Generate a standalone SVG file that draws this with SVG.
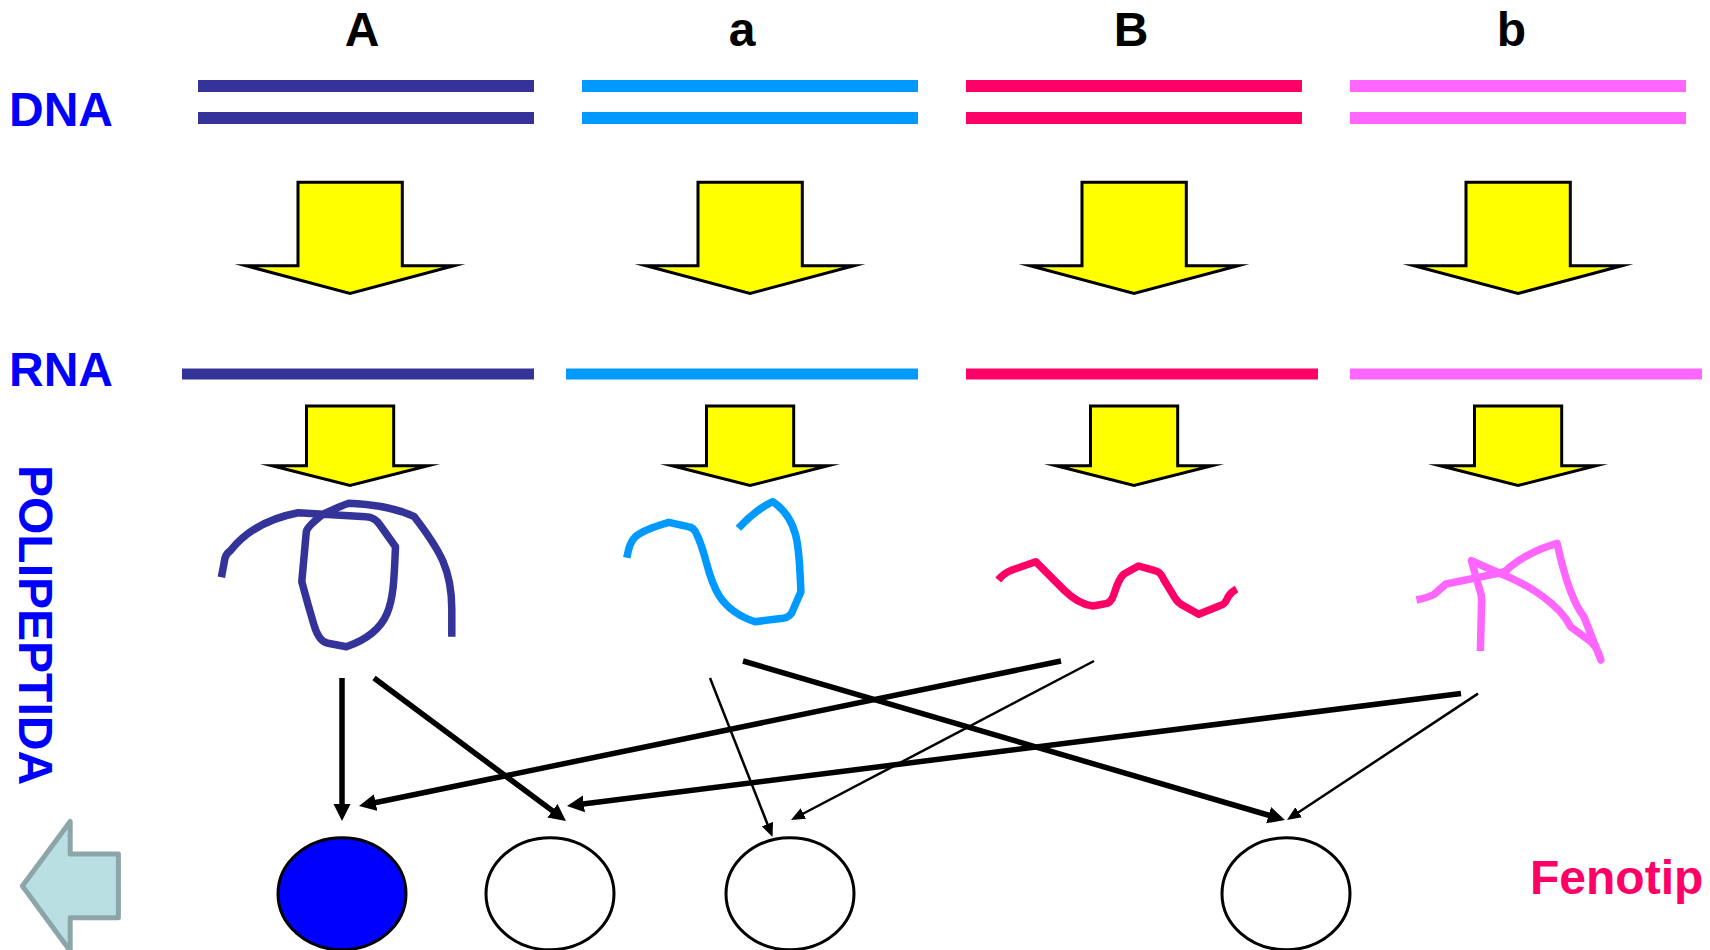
<svg xmlns="http://www.w3.org/2000/svg" width="1710" height="950" viewBox="0 0 1710 950">
<style>
text{font-family:"Liberation Sans",Arial,sans-serif;font-weight:bold;font-size:48px}
.hd{fill:#000;text-anchor:middle}
.lb{fill:#0000FF}
.navy{fill:#333399}.sky{fill:#0099FF}.red{fill:#FF0066}.vio{fill:#FF66FF}
.yl{fill:#FFFF00;stroke:#000;stroke-width:3;stroke-miterlimit:14;stroke-linejoin:miter}
.pp{fill:none;stroke-width:7.500;stroke-linejoin:round}
.cell{fill:#fff;stroke:#000;stroke-width:3}
.thick{stroke:#000;stroke-width:5.500;fill:none;marker-end:url(#hb)}
.thin{stroke:#000;stroke-width:2.500;fill:none;marker-end:url(#hs)}
</style>
<defs>
<marker id="hb" markerUnits="userSpaceOnUse" markerWidth="20" markerHeight="20" refX="1" refY="9" orient="auto"><path d="M0,0.5L17,9L0,17.500Z" fill="#000"/></marker>
<marker id="hs" markerUnits="userSpaceOnUse" markerWidth="16" markerHeight="14" refX="1" refY="7" orient="auto"><path d="M0,1L14,7L0,13Z" fill="#000"/></marker>
<polygon id="big" class="yl" points="298,182.200 402.300,182.200 402.300,265.700 454,265.700 350,293.500 246,265.700 298,265.700"/>
<polygon id="small" class="yl" points="306.500,406 393.700,406 393.700,465.700 428,465.700 350,485.500 272,465.700 306.500,465.700"/>
</defs>
<g id="labels">
<text class="hd" x="362" y="46">A</text>
<text class="hd" x="742" y="46">a</text>
<text class="hd" x="1131" y="46">B</text>
<text class="hd" x="1511.500" y="46">b</text>
<text class="lb" x="9" y="126">DNA</text>
<text class="lb" x="9" y="386">RNA</text>
<text class="lb" transform="translate(19,465) rotate(90)">POLIPEPTIDA</text>
<text x="1530" y="894" fill="#FF0066">Fenotip</text>
</g>
<g id="dna">
<rect class="navy" x="198" y="80" width="336" height="12"/><rect class="navy" x="198" y="112" width="336" height="12"/>
<rect class="sky" x="582" y="80" width="336" height="12"/><rect class="sky" x="582" y="112" width="336" height="12"/>
<rect class="red" x="966" y="80" width="336" height="12"/><rect class="red" x="966" y="112" width="336" height="12"/>
<rect class="vio" x="1350" y="80" width="336" height="12"/><rect class="vio" x="1350" y="112" width="336" height="12"/>
</g>
<g id="rna">
<rect class="navy" x="182" y="368.500" width="352" height="11"/>
<rect class="sky" x="566" y="368.500" width="352" height="11"/>
<rect class="red" x="966" y="368.500" width="352" height="11"/>
<rect class="vio" x="1350" y="368.500" width="352" height="11"/>
</g>
<g id="transcription-arrows">
<use href="#big"/><use href="#big" x="400"/><use href="#big" x="784"/><use href="#big" x="1168"/>
</g>
<g id="translation-arrows">
<use href="#small"/><use href="#small" x="400"/><use href="#small" x="784"/><use href="#small" x="1168"/>
</g>
<g id="polypeptides">
<path class="pp" stroke="#333399" d="M221.400,577.300L225,558Q226.500,553 230.400,550.700Q254,521 298.200,512.700L366,516.700Q375,517 380,525L395.500,546.700C393,600 395,630 346.400,646.700L328,643.300Q319,642 314,625C308,605 304,590 301.800,581.700L306.300,531.700Q307,527 321.900,515Q335,508 348.700,503.300Q390,505 414.300,516.700C440,550 452,570 451.800,610L451.800,636.700"/>
<path class="pp" stroke="#0099FF" d="M626.800,557.700C631,538 632,533 668.800,522.300L688,526.700Q694,527 697,535C712,565 705,605 754.900,621.700L783,618.300Q791,617 793,610L800.900,591.700C799,550 800,520 772.800,501.700Q755,510 738.400,528.300"/>
<path class="pp" stroke="#FF0066" d="M998.200,580Q1004,573 1012,570L1035.700,561.700L1064,590Q1078,604 1092.900,606L1104,604Q1111,604 1114,594Q1119,578 1124,574L1138.400,566L1155,570.700Q1160,571 1164,580L1175,598Q1178,603 1184,606L1198.700,614.300L1219,606Q1225,605 1228,597Q1231,592 1236.600,589"/>
<path class="pp" stroke="#FF66FF" d="M1416.500,600Q1428,597.500 1434,594.500Q1440,589 1446,584L1498,573.300Q1505,573 1510,567Q1530,551 1557.100,543.300C1565,580 1573,603 1583.900,616.700L1600.900,660Q1596,643 1586.200,638.300L1570.500,626.700C1560,605 1530,585 1499,573L1471.400,560.700L1480.300,591.700Q1482,596 1481.500,605L1480.400,651"/>
</g>
<g id="connectors">
<line class="thick" x1="342" y1="678" x2="342" y2="805"/>
<line class="thick" x1="374" y1="678" x2="553.200" y2="811.400"/>
<line class="thick" x1="1061" y1="661" x2="374.700" y2="802.800"/>
<line class="thick" x1="743" y1="661" x2="1269.600" y2="815.500"/>
<line class="thick" x1="1461" y1="693.600" x2="582.900" y2="804"/>
<line class="thin" x1="1094" y1="661" x2="802.500" y2="814"/>
<line class="thin" x1="710" y1="678" x2="767.800" y2="825"/>
<line class="thin" x1="1478" y1="693.600" x2="1297.800" y2="812.800"/>
</g>
<g id="cell-1"><ellipse cx="342" cy="893.800" rx="64" ry="56" fill="#0000FF" stroke="#000" stroke-width="3"/></g>
<g id="cell-2"><ellipse class="cell" cx="550" cy="893.800" rx="64" ry="56"/></g>
<g id="cell-3"><ellipse class="cell" cx="790" cy="893.800" rx="64" ry="56"/></g>
<g id="cell-4"><ellipse class="cell" cx="1286" cy="893.800" rx="64" ry="56"/></g>
<g id="back-arrow"><polygon points="22.400,886 70.200,821.500 70.200,854 118.400,854 118.400,917.700 70.200,917.700 70.200,951" fill="#B9DFE3" stroke="#8CA5A8" stroke-width="5" stroke-linejoin="round"/></g>
</svg>
